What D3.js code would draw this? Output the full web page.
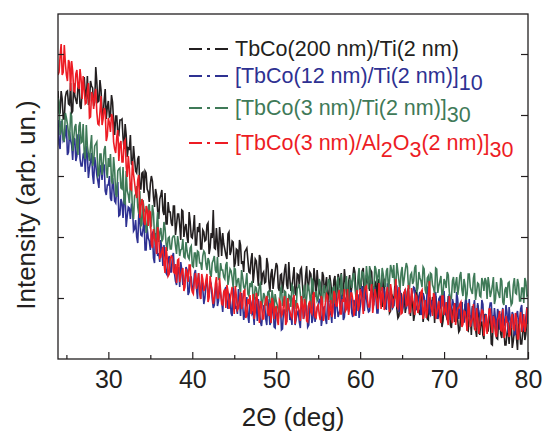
<!DOCTYPE html>
<html>
<head>
<meta charset="utf-8">
<script src="https://cdn.jsdelivr.net/npm/d3@7"></script>
<style>
  body { margin: 0; background: #fff; }
  svg { display: block; font-family: "Liberation Sans", Arial, Helvetica, sans-serif; }
</style>
</head>
<body>
<svg id="chart" width="543" height="433"></svg>
<script>
// 2-theta scan grid (deg)
const angleStart = 24, angleEnd = 80, angleStep = 0.125;
const xMajorTicks = [30, 40, 50, 60, 70, 80];
const xMinorTicks = [25, 35, 45, 55, 65, 75];
const yTicks = [61, 122, 183, 244, 305];

// intensities (arb. un.), one value per 0.125 deg
const tbco200 = [
  268, 246, 246, 268, 260, 240, 240, 262, 267, 268, 255, 254, 276, 246, 248, 276,
  263, 259, 255, 271, 276, 253, 250, 269, 275, 282, 266, 260, 283, 254, 258, 278,
  273, 271, 253, 257, 292, 277, 257, 258, 279, 269, 247, 242, 259, 270, 240, 252,
  258, 242, 243, 264, 257, 238, 224, 243, 243, 225, 224, 239, 239, 240, 221, 210,
  235, 224, 202, 211, 210, 224, 195, 194, 213, 200, 188, 186, 200, 203, 170, 170,
  186, 187, 166, 188, 186, 170, 167, 157, 175, 183, 178, 162, 152, 170, 164, 148,
  140, 160, 164, 169, 148, 144, 166, 135, 135, 157, 147, 147, 136, 133, 153, 153,
  124, 134, 145, 145, 134, 119, 149, 148, 122, 131, 135, 122, 116, 147, 137, 122,
  121, 130, 144, 114, 114, 132, 127, 136, 110, 110, 129, 127, 118, 119, 134, 136,
  105, 111, 126, 121, 149, 111, 110, 131, 115, 102, 132, 122, 103, 126, 115, 110,
  104, 100, 125, 127, 104, 108, 118, 117, 92, 96, 110, 109, 93, 119, 114, 95,
  98, 87, 107, 109, 111, 99, 87, 86, 99, 106, 76, 87, 100, 98, 86, 73,
  104, 101, 74, 85, 87, 76, 77, 101, 95, 77, 67, 85, 90, 70, 80, 88,
  96, 93, 71, 68, 84, 85, 66, 77, 89, 95, 74, 70, 97, 80, 68, 71,
  82, 92, 66, 64, 85, 84, 74, 89, 91, 74, 61, 64, 83, 93, 68, 74,
  87, 85, 73, 64, 91, 79, 62, 89, 75, 67, 64, 59, 87, 83, 66, 74,
  82, 62, 57, 84, 76, 66, 60, 79, 83, 55, 68, 85, 80, 71, 86, 63,
  64, 90, 78, 67, 58, 77, 84, 62, 72, 82, 92, 87, 63, 62, 78, 81,
  69, 73, 88, 91, 61, 66, 84, 77, 75, 68, 89, 87, 62, 57, 75, 77,
  55, 80, 76, 63, 59, 52, 81, 79, 50, 59, 63, 69, 46, 48, 65, 62,
  53, 72, 70, 50, 41, 43, 62, 66, 48, 58, 67, 46, 53, 67, 71, 50,
  43, 63, 55, 38, 45, 68, 67, 52, 47, 44, 62, 69, 37, 46, 56, 54,
  40, 39, 62, 57, 47, 62, 57, 36, 63, 54, 40, 46, 53, 63, 32, 38,
  58, 49, 44, 39, 63, 59, 34, 31, 47, 51, 37, 55, 55, 39, 27, 29,
  49, 57, 39, 38, 55, 49, 29, 28, 43, 43, 24, 53, 46, 30, 30, 22,
  54, 46, 24, 37, 37, 24, 20, 45, 40, 28, 28, 40, 44, 15, 14, 44,
  36, 29, 21, 20, 39, 45, 25, 21, 43, 30, 14, 14, 26, 32, 15, 36,
  38, 11, 18, 29, 34, 21, 9, 39, 30, 15, 15, 27, 39, 19, 25, 41,
  37
];
const tbco12x10 = [
  239, 215, 210, 238, 231, 218, 220, 224, 234, 204, 207, 227, 219, 214, 199, 221,
  220, 198, 203, 224, 224, 200, 193, 193, 205, 206, 187, 213, 204, 181, 191, 197,
  206, 184, 175, 202, 194, 184, 178, 171, 194, 190, 179, 195, 194, 168, 164, 174,
  174, 183, 161, 158, 181, 172, 158, 156, 171, 177, 143, 144, 160, 156, 141, 161,
  161, 132, 143, 152, 151, 140, 154, 152, 128, 130, 139, 122, 116, 145, 139, 124,
  123, 129, 141, 109, 109, 131, 121, 118, 109, 124, 126, 101, 96, 126, 117, 103,
  106, 97, 119, 109, 93, 114, 104, 86, 84, 99, 103, 87, 87, 102, 106, 86,
  78, 74, 89, 92, 72, 97, 89, 74, 77, 79, 92, 89, 64, 67, 82, 82,
  69, 69, 85, 89, 71, 60, 86, 73, 60, 79, 71, 55, 61, 74, 81, 65,
  62, 78, 75, 60, 51, 54, 69, 76, 53, 58, 73, 65, 58, 47, 67, 69,
  72, 58, 50, 65, 63, 46, 43, 71, 65, 51, 52, 45, 70, 59, 43, 66,
  55, 39, 46, 54, 62, 43, 36, 60, 56, 45, 47, 34, 62, 54, 38, 60,
  50, 37, 33, 44, 53, 54, 40, 34, 60, 49, 34, 37, 47, 58, 32, 31,
  50, 45, 40, 52, 56, 29, 30, 49, 49, 41, 37, 55, 55, 39, 43, 34,
  59, 57, 34, 40, 46, 48, 37, 31, 58, 54, 40, 44, 55, 53, 32, 34,
  51, 60, 36, 41, 58, 37, 44, 51, 54, 59, 60, 33, 40, 50, 53, 40,
  35, 59, 58, 45, 47, 36, 65, 56, 40, 64, 53, 42, 46, 50, 63, 61,
  39, 42, 60, 58, 53, 47, 68, 68, 46, 42, 59, 56, 43, 64, 64, 41,
  52, 62, 73, 54, 48, 69, 61, 52, 47, 48, 65, 71, 56, 55, 72, 63,
  46, 46, 65, 69, 54, 60, 71, 68, 59, 49, 75, 75, 50, 56, 62, 51,
  53, 65, 74, 73, 56, 47, 69, 62, 46, 52, 65, 70, 50, 56, 70, 45,
  56, 65, 66, 72, 71, 49, 50, 56, 63, 67, 44, 47, 66, 62, 54, 50,
  72, 71, 46, 44, 58, 57, 50, 64, 67, 41, 41, 60, 62, 52, 53, 65,
  68, 48, 44, 42, 57, 65, 39, 47, 60, 55, 46, 37, 67, 60, 40, 49,
  53, 57, 37, 37, 55, 63, 44, 43, 60, 38, 33, 51, 52, 59, 39, 32,
  56, 48, 43, 37, 59, 55, 33, 40, 45, 30, 35, 49, 56, 56, 37, 33,
  51, 40, 27, 50, 46, 30, 30, 45, 51, 33, 37, 54, 46, 26, 52, 40,
  31, 47, 44, 24, 25, 44, 48, 36, 36, 50, 54, 33, 29, 29, 42, 52,
  35
];
const tbco3x30 = [
  261, 257, 224, 229, 240, 219, 218, 246, 241, 235, 226, 219, 245, 243, 208, 221,
  232, 235, 213, 204, 233, 237, 216, 217, 235, 205, 200, 234, 213, 205, 198, 213,
  224, 193, 198, 213, 215, 217, 183, 185, 205, 205, 184, 193, 209, 213, 189, 181,
  201, 192, 205, 178, 175, 202, 189, 165, 162, 188, 190, 191, 171, 170, 192, 156,
  155, 188, 168, 164, 156, 175, 175, 148, 140, 163, 165, 173, 152, 145, 168, 133,
  135, 159, 150, 147, 126, 131, 152, 155, 132, 133, 154, 146, 122, 114, 133, 147,
  117, 126, 131, 118, 120, 137, 131, 116, 108, 121, 122, 110, 110, 121, 123, 123,
  113, 105, 123, 116, 103, 109, 110, 120, 102, 101, 117, 108, 102, 100, 111, 113,
  93, 92, 106, 106, 92, 108, 107, 96, 96, 89, 103, 108, 106, 95, 89, 101,
  98, 86, 82, 96, 99, 103, 89, 86, 102, 80, 81, 96, 89, 89, 82, 80,
  94, 97, 74, 81, 90, 88, 81, 71, 91, 90, 72, 78, 81, 72, 67, 89,
  82, 72, 70, 76, 86, 65, 63, 76, 72, 78, 60, 60, 72, 71, 63, 64,
  74, 76, 52, 56, 66, 63, 54, 54, 67, 68, 57, 47, 69, 62, 49, 65,
  58, 54, 49, 46, 70, 72, 53, 56, 68, 67, 47, 51, 64, 63, 52, 74,
  72, 56, 59, 50, 70, 72, 75, 65, 56, 55, 68, 74, 51, 61, 74, 72,
  63, 52, 80, 78, 56, 65, 68, 58, 60, 80, 76, 61, 54, 70, 74, 57,
  66, 73, 80, 77, 58, 56, 71, 72, 56, 65, 77, 82, 64, 60, 85, 71,
  62, 64, 75, 83, 61, 59, 79, 78, 71, 83, 86, 72, 62, 65, 82, 91,
  71, 76, 87, 86, 77, 70, 93, 82, 70, 93, 81, 74, 72, 68, 93, 90,
  76, 83, 90, 72, 68, 91, 85, 77, 72, 88, 91, 67, 79, 94, 89, 81,
  94, 74, 74, 96, 87, 78, 69, 86, 92, 73, 80, 89, 96, 92, 72, 71,
  84, 86, 75, 78, 91, 94, 67, 71, 87, 81, 78, 72, 92, 90, 69, 65,
  81, 83, 65, 86, 85, 74, 71, 65, 91, 90, 66, 73, 78, 83, 63, 65,
  80, 77, 71, 87, 84, 67, 59, 61, 78, 82, 66, 75, 82, 64, 71, 83,
  87, 69, 63, 80, 74, 59, 65, 85, 85, 72, 68, 65, 81, 86, 59, 67,
  76, 75, 63, 62, 81, 77, 68, 81, 78, 60, 82, 74, 62, 67, 73, 82,
  55, 60, 77, 69, 65, 61, 81, 78, 57, 54, 69, 72, 61, 76, 77, 64,
  54, 56, 74, 81, 66, 65, 80, 75, 58, 58, 71, 71, 56, 81, 77, 63,
  64
];
const tbco3al2o3x30 = [
  284, 287, 303, 315, 284, 287, 314, 296, 284, 278, 299, 296, 268, 298, 288, 268,
  267, 285, 289, 273, 270, 290, 280, 260, 283, 269, 255, 256, 268, 276, 241, 242,
  267, 263, 250, 265, 270, 247, 235, 234, 247, 263, 234, 240, 251, 248, 218, 223,
  241, 236, 227, 245, 242, 217, 210, 206, 222, 229, 198, 215, 218, 197, 197, 217,
  219, 193, 182, 203, 191, 170, 169, 198, 185, 176, 167, 161, 179, 184, 141, 152,
  160, 156, 138, 134, 153, 149, 133, 148, 147, 115, 111, 130, 121, 117, 105, 132,
  123, 101, 102, 108, 112, 96, 86, 112, 102, 83, 85, 100, 103, 102, 87, 86,
  95, 76, 99, 100, 77, 83, 88, 91, 68, 72, 90, 85, 77, 94, 94, 73,
  67, 65, 79, 86, 70, 78, 86, 66, 60, 85, 80, 68, 71, 79, 85, 57,
  61, 83, 73, 68, 55, 60, 75, 82, 61, 61, 81, 68, 55, 54, 67, 70,
  51, 74, 68, 50, 57, 66, 72, 57, 45, 73, 63, 49, 51, 59, 67, 50,
  54, 68, 69, 41, 44, 60, 55, 64, 45, 49, 65, 40, 47, 66, 60, 49,
  36, 58, 55, 40, 40, 54, 60, 63, 46, 43, 56, 36, 61, 57, 40, 50,
  53, 39, 34, 59, 57, 43, 45, 55, 63, 34, 37, 61, 51, 48, 43, 41,
  60, 64, 35, 44, 56, 52, 48, 38, 63, 55, 40, 60, 54, 38, 37, 55,
  58, 47, 45, 64, 67, 42, 41, 52, 54, 44, 39, 63, 58, 38, 48, 57,
  65, 63, 39, 49, 59, 42, 47, 68, 65, 53, 53, 63, 69, 45, 45, 60,
  57, 70, 48, 50, 70, 44, 52, 66, 66, 59, 43, 48, 63, 69, 48, 53,
  70, 66, 56, 45, 66, 72, 73, 59, 52, 52, 65, 75, 46, 55, 70, 64,
  58, 50, 76, 67, 50, 72, 63, 49, 55, 66, 72, 58, 47, 75, 67, 51,
  59, 61, 80, 53, 51, 72, 63, 45, 46, 64, 67, 69, 53, 54, 74, 46,
  47, 71, 60, 55, 44, 64, 62, 46, 51, 59, 67, 69, 40, 48, 59, 41,
  46, 62, 78, 55, 50, 43, 66, 63, 40, 46, 52, 58, 42, 36, 63, 63,
  44, 48, 57, 40, 34, 63, 52, 42, 36, 49, 56, 34, 42, 51, 51, 55,
  57, 32, 35, 48, 47, 39, 28, 56, 50, 32, 37, 41, 55, 33, 28, 51,
  41, 25, 32, 43, 49, 48, 23, 33, 44, 25, 35, 50, 50, 34, 26, 43,
  39, 25, 22, 39, 42, 48, 29, 28, 50, 21, 24, 43, 37, 36, 22, 25,
  40, 45, 30, 29, 46, 41, 20, 20, 39, 47, 27, 33, 45, 27, 33, 50,
  49
];

const seriesValues = [tbco200, tbco12x10, tbco3x30, tbco3al2o3x30];
const seriesColors = ["#231f20", "#2e3192", "#3f7a58", "#ed1c24"];
// legend labels: [text, isSubscript]
const legendLabels = [
  [["TbCo(200 nm)/Ti(2 nm)", false]],
  [["[TbCo(12 nm)/Ti(2 nm)]", false], ["10", true]],
  [["[TbCo(3 nm)/Ti(2 nm)]", false], ["30", true]],
  [["[TbCo(3 nm)/Al", false], ["2", true], ["O", false], ["3", true], ["(2 nm)]", false], ["30", true]]
];

const svg = d3.select("#chart");
const plotLeft = 58, plotRight = 528, plotTop = 14, plotBottom = 359;
const ink = "#231f20";

const angles = d3.range(angleStart, angleEnd + angleStep / 2, angleStep);
const x = d3.scaleLinear().domain([angleStart, angleEnd]).range([plotLeft, plotRight]);
const y = d3.scaleLinear().domain([0, 345]).range([plotBottom, plotTop]);

svg.append("clipPath").attr("id", "plotclip")
  .append("rect").attr("x", plotLeft).attr("y", plotTop)
  .attr("width", plotRight - plotLeft).attr("height", plotBottom - plotTop);

const line = d3.line()
  .x((d, i) => x(angles[i]))
  .y(d => y(d));

svg.append("g").attr("clip-path", "url(#plotclip)")
  .selectAll("path")
  .data(seriesValues)
  .join("path")
  .attr("d", line)
  .attr("fill", "none")
  .attr("stroke", (d, i) => seriesColors[i])
  .attr("stroke-width", 1.6);

// axes
const xAxis = svg.append("g").attr("transform", `translate(0,${plotBottom})`)
  .call(d3.axisBottom(x).tickValues(xMajorTicks).tickSize(-7).tickPadding(11));
const xMinor = svg.append("g").attr("transform", `translate(0,${plotBottom})`)
  .call(d3.axisBottom(x).tickValues(xMinorTicks).tickSize(-4).tickFormat(""));
const yLeft = svg.append("g").attr("transform", `translate(${plotLeft},0)`)
  .call(d3.axisLeft(y).tickValues(yTicks).tickSize(-6).tickFormat(""));
const yRight = svg.append("g").attr("transform", `translate(${plotRight},0)`)
  .call(d3.axisRight(y).tickValues(yTicks).tickSize(-7).tickFormat(""));

[xAxis, xMinor, yLeft, yRight].forEach(g => {
  g.select(".domain").remove();
  g.selectAll("line").attr("stroke", ink).attr("stroke-width", 1.2);
});
xAxis.selectAll("text")
  .attr("fill", ink)
  .style("font-size", "25px")
  .style("font-family", "'Liberation Sans', Arial, sans-serif");

svg.append("rect")
  .attr("x", plotLeft).attr("y", plotTop)
  .attr("width", plotRight - plotLeft).attr("height", plotBottom - plotTop)
  .attr("fill", "none").attr("stroke", ink).attr("stroke-width", 1.3);

// axis titles
svg.append("text")
  .attr("x", (plotLeft + plotRight) / 2).attr("y", 426)
  .attr("text-anchor", "middle")
  .attr("fill", ink)
  .style("font-size", "26px")
  .text("2\u0398 (deg)");

svg.append("text")
  .attr("transform", "translate(35,205) rotate(-90)")
  .attr("text-anchor", "middle")
  .attr("fill", ink)
  .style("font-size", "26px")
  .text("Intensity (arb. un.)");

// legend
const legendY = [49, 76, 108, 143];
const legend = svg.append("g");
legendLabels.forEach((parts, i) => {
  const row = legend.append("g").attr("transform", `translate(0,${legendY[i]})`);
  row.append("line")
    .attr("x1", 189).attr("x2", 228)
    .attr("stroke", seriesColors[i])
    .attr("stroke-width", 2.2)
    .attr("stroke-dasharray", "13,5,3,5,13");
  const t = row.append("text")
    .attr("x", 235).attr("y", 7)
    .attr("fill", seriesColors[i])
    .style("font-size", "21.5px");
  let shifted = false;
  parts.forEach(([txt, sub]) => {
    const span = t.append("tspan").text(txt);
    if (sub && !shifted) { span.attr("dy", 7); shifted = true; }
    else if (!sub && shifted) { span.attr("dy", -7); shifted = false; }
  });
});
</script>
</body>
</html>
